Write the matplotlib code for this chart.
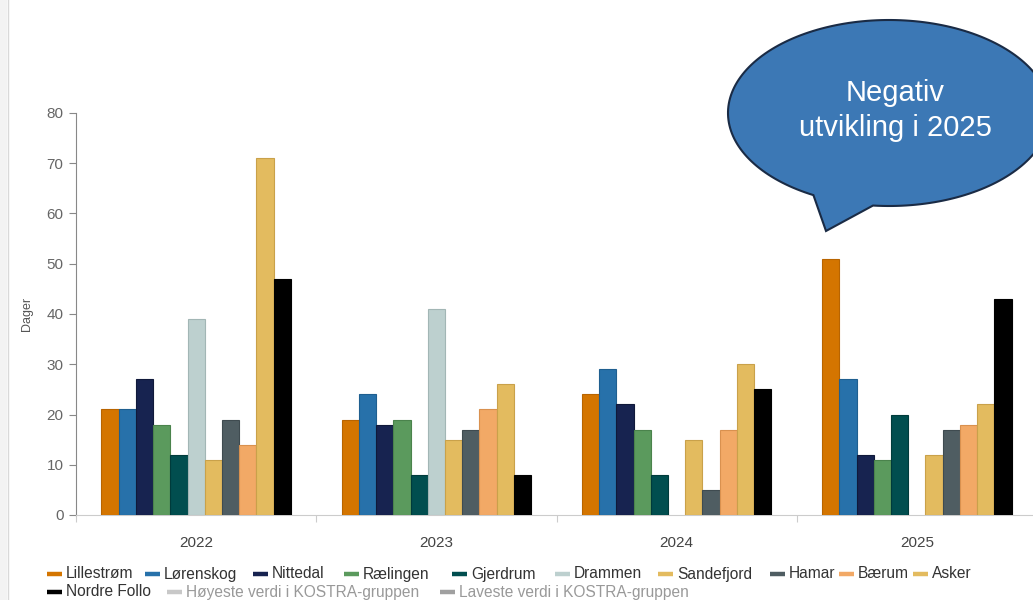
import matplotlib
matplotlib.use("Agg")
import matplotlib.pyplot as plt
import numpy as np
from matplotlib.patches import Rectangle, PathPatch
from matplotlib.path import Path

plt.rcParams["font.family"] = ["Liberation Sans", "DejaVu Sans"]

years = ["2022", "2023", "2024", "2025"]
kommuner = ["Lillestrøm", "Lørenskog", "Nittedal", "Rælingen", "Gjerdrum",
            "Drammen", "Sandefjord", "Hamar", "Bærum", "Asker", "Nordre Follo"]
colors = ["#d47500", "#2771aa", "#172350", "#5b9a5d", "#014e4f",
          "#bdd0cf", "#e3bb5f", "#4f5d62", "#f2a966", "#e3bb5f", "#000000"]
edges = ["#b86400", "#1f5f90", "#10193a", "#4a834c", "#003b3b",
         "#a2b6b5", "#c9a14a", "#3f4b50", "#d9914f", "#c9a14a", "#000000"]

# dager per kommune, one list per year (nan = no data)
v2022 = [21, 21, 27, 18, 12, 39, 11, 19, 14, 71, 47]
v2023 = [19, 24, 18, 19, 8, 41, 15, 17, 21, 26, 8]
v2024 = [24, 29, 22, 17, 8, np.nan, 15, 5, 17, 30, 25]
v2025 = [51, 27, 12, 11, 20, np.nan, 12, 17, 18, 22, 43]
values = np.array([v2022, v2023, v2024, v2025])

extra_legend = ["Høyeste verdi i KOSTRA-gruppen", "Laveste verdi i KOSTRA-gruppen"]
extra_colors = ["#c8c8c8", "#a0a0a0"]

W, H = 1033, 600
fig = plt.figure(figsize=(W / 100, H / 100), dpi=100)

ax = fig.add_axes([76 / W, 85 / H, (1037 - 76) / W, (515 - 113) / H])
bw = 0.0717
n = len(kommuner)
for k in range(n):
    x = np.arange(len(years)) + 0.5 + (k - (n - 1) / 2) * bw
    ax.bar(x, values[:, k], bw, color=colors[k], edgecolor=edges[k],
           linewidth=0.8, zorder=3)

ax.set_xlim(0, len(years))
ax.set_ylim(0, 80)
ax.set_yticks(range(0, 81, 10))
ax.set_xticks(range(len(years) + 1))
ax.set_xticklabels([])
ax.set_xticks(np.arange(len(years)) + 0.5, minor=True)
ax.set_xticklabels(years, minor=True)
ax.tick_params(axis="x", which="major", length=5, color="#cccccc")
ax.tick_params(axis="x", which="minor", length=0, pad=15, labelsize=11,
               labelcolor="#444444")
ax.tick_params(axis="y", length=5, color="#888888", labelsize=11,
               labelcolor="#666666", pad=4)
for s in ["top", "right"]:
    ax.spines[s].set_visible(False)
ax.spines["left"].set_color("#888888")
ax.spines["bottom"].set_color("#cccccc")
ax.set_ylabel("Dager", fontsize=9, color="#555555", labelpad=10)

# overlay in pixel coordinates for frame strip, legend and callout
ov = fig.add_axes([0, 0, 1, 1], zorder=10)
ov.set_xlim(0, W)
ov.set_ylim(H, 0)
ov.axis("off")
ov.patch.set_alpha(0)

ov.add_patch(Rectangle((0, 0), 7, H, color="#f3f3f3", lw=0))
ov.plot([8, 8], [0, H], color="#d9d9d9", lw=1)

row1_x = [47, 145, 253, 344, 452, 555, 658, 770, 839, 913]
row2_x = [47, 167, 440]
entries = []
for i, name in enumerate(kommuner[:10]):
    entries.append((row1_x[i], 574, name, colors[i], "#333333"))
entries.append((row2_x[0], 592, kommuner[10], colors[10], "#333333"))
for j, name in enumerate(extra_legend):
    entries.append((row2_x[j + 1], 592, name, extra_colors[j], "#999999"))
for x0, y0, label, c, tc in entries:
    ov.plot([x0, x0 + 15], [y0, y0], color=c, lw=3.2, solid_capstyle="butt")
    ov.text(x0 + 19, y0, label, fontsize=11.2, color=tc, va="center", ha="left")

# speech bubble
cx, cy, a, b = 889, 113, 161, 93
t = np.radians(np.linspace(118, 360 + 95.7, 200))
pts = np.column_stack([cx + a * np.cos(t), cy + b * np.sin(t)])
pts = np.vstack([pts, [[826, 231]], pts[:1]])
codes = [Path.MOVETO] + [Path.LINETO] * (len(pts) - 2) + [Path.CLOSEPOLY]
ov.add_patch(PathPatch(Path(pts, codes), facecolor="#3c78b5",
                       edgecolor="#1a2b45", lw=1.5))
ov.text(895, 93, "Negativ", fontsize=21, color="white", ha="center", va="center")
ov.text(895, 128, "utvikling i 2025", fontsize=21, color="white",
        ha="center", va="center")

fig.savefig("out.png", dpi=100)
